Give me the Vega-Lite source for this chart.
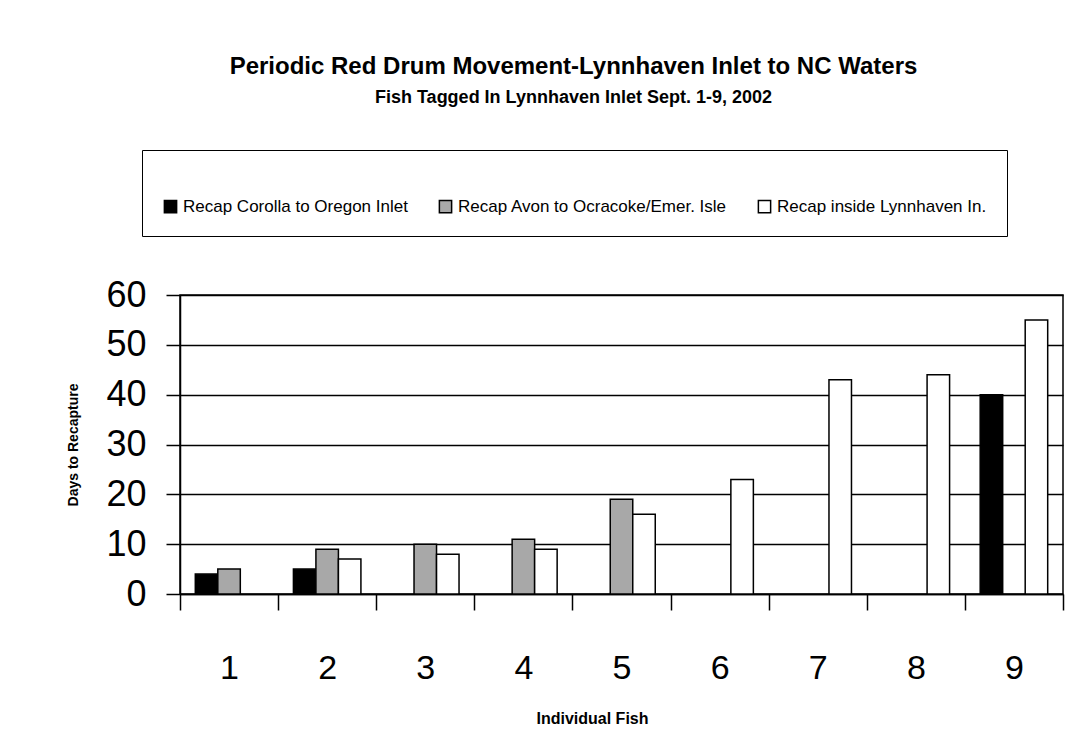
{
  "$schema": "https://vega.github.io/schema/vega-lite/v6.json",
  "autosize": "none",
  "width": 883,
  "height": 299,
  "padding": {"left": 180, "top": 295, "right": 17, "bottom": 136},
  "background": "white",
  "title": {
    "text": "Periodic Red Drum Movement-Lynnhaven Inlet to NC  Waters",
    "subtitle": "Fish Tagged In Lynnhaven Inlet Sept. 1-9, 2002",
    "font": "Liberation Sans",
    "fontSize": 24,
    "fontWeight": "bold",
    "color": "black",
    "subtitleFont": "Liberation Sans",
    "subtitleFontSize": 18,
    "subtitleFontWeight": "bold",
    "subtitleColor": "black",
    "subtitlePadding": 10,
    "anchor": "middle",
    "frame": "group",
    "dx": -48,
    "offset": 43
  },
  "data": {
    "values": [
      {"fish": "1", "series": "Recap Corolla to Oregon Inlet", "days": 4},
      {"fish": "1", "series": "Recap Avon to Ocracoke/Emer. Isle", "days": 5},
      {"fish": "2", "series": "Recap Corolla to Oregon Inlet", "days": 5},
      {"fish": "2", "series": "Recap Avon to Ocracoke/Emer. Isle", "days": 9},
      {"fish": "2", "series": "Recap inside Lynnhaven In.", "days": 7},
      {"fish": "3", "series": "Recap Avon to Ocracoke/Emer. Isle", "days": 10},
      {"fish": "3", "series": "Recap inside Lynnhaven In.", "days": 8},
      {"fish": "4", "series": "Recap Avon to Ocracoke/Emer. Isle", "days": 11},
      {"fish": "4", "series": "Recap inside Lynnhaven In.", "days": 9},
      {"fish": "5", "series": "Recap Avon to Ocracoke/Emer. Isle", "days": 19},
      {"fish": "5", "series": "Recap inside Lynnhaven In.", "days": 16},
      {"fish": "6", "series": "Recap inside Lynnhaven In.", "days": 23},
      {"fish": "7", "series": "Recap inside Lynnhaven In.", "days": 43},
      {"fish": "8", "series": "Recap inside Lynnhaven In.", "days": 44},
      {"fish": "9", "series": "Recap Corolla to Oregon Inlet", "days": 40},
      {"fish": "9", "series": "Recap inside Lynnhaven In.", "days": 55}
    ]
  },
  "mark": {"type": "bar", "stroke": "black", "strokeWidth": 1.5},
  "encoding": {
    "x": {
      "field": "fish",
      "type": "nominal",
      "sort": ["1","2","3","4","5","6","7","8","9"],
      "scale": {"paddingInner": 0, "paddingOuter": 0},
      "axis": {
        "title": "Individual Fish",
        "titleFont": "Liberation Sans",
        "titleFontSize": 16,
        "titleFontWeight": "bold",
        "titleColor": "black",
        "titlePadding": 25,
        "titleX": 412,
        "labelAngle": 0,
        "labelFont": "Liberation Sans",
        "labelFontSize": 34,
        "labelColor": "black",
        "labelPadding": 41,
        "tickBand": "extent",
        "tickSize": 16,
        "tickColor": "black",
        "tickWidth": 1.5,
        "domainColor": "black",
        "domainWidth": 1.5
      }
    },
    "xOffset": {
      "field": "series",
      "type": "nominal",
      "sort": ["Recap Corolla to Oregon Inlet", "Recap Avon to Ocracoke/Emer. Isle", "Recap inside Lynnhaven In."],
      "scale": {"paddingInner": 0, "paddingOuter": 0.68}
    },
    "y": {
      "field": "days",
      "type": "quantitative",
      "scale": {"domain": [0, 60]},
      "axis": {
        "title": "Days to Recapture",
        "titleFont": "Liberation Sans",
        "titleFontSize": 14,
        "titleFontWeight": "bold",
        "titleColor": "black",
        "titlePadding": 25,
        "values": [0, 10, 20, 30, 40, 50, 60],
        "labelFont": "Liberation Sans",
        "labelFontSize": 36,
        "labelColor": "black",
        "labelPadding": 20,
        "tickSize": 14,
        "tickColor": "black",
        "tickWidth": 1.5,
        "grid": true,
        "gridColor": "black",
        "gridWidth": 1.5,
        "domainColor": "black",
        "domainWidth": 1.5
      }
    },
    "color": {
      "field": "series",
      "type": "nominal",
      "sort": ["Recap Corolla to Oregon Inlet", "Recap Avon to Ocracoke/Emer. Isle", "Recap inside Lynnhaven In."],
      "scale": {"range": ["#000000", "#a8a8a8", "#ffffff"]},
      "legend": {
        "orient": "none",
        "legendX": -38,
        "legendY": -145,
        "direction": "horizontal",
        "title": " ",
        "titleFontSize": 18,
        "titlePadding": 10,
        "padding": 20,
        "strokeColor": "black",
        "symbolType": "square",
        "symbolSize": 150,
        "symbolStrokeColor": "black",
        "symbolStrokeWidth": 1.5,
        "labelFont": "Liberation Sans",
        "labelFontSize": 17,
        "labelColor": "black",
        "labelLimit": 0,
        "labelOffset": 4,
        "columnPadding": 28
      }
    }
  },
  "config": {
    "view": {"stroke": "black", "strokeWidth": 1.5}
  }
}
